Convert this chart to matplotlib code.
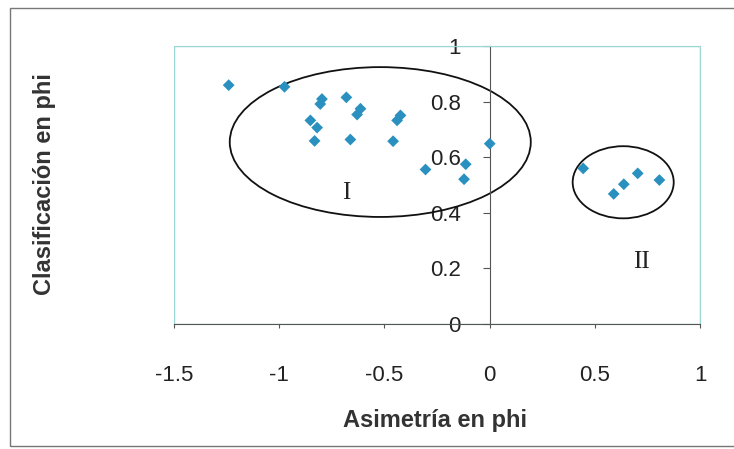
import matplotlib
matplotlib.use("Agg")
import matplotlib.pyplot as plt
from matplotlib.patches import Ellipse, Rectangle

plt.rcParams["font.family"] = ["Liberation Sans", "DejaVu Sans"]

# Datos
asimetria = [-1.24, -0.975, -0.797, -0.805, -0.681, -0.614, -0.630, -0.424, -0.440,
             -0.852, -0.820, -0.832, -0.662, -0.459, 0.0, -0.305, -0.114, -0.122,
             0.444, 0.589, 0.637, 0.703, 0.806]
clasificacion = [0.859, 0.853, 0.809, 0.791, 0.815, 0.774, 0.753, 0.750, 0.732,
                 0.732, 0.706, 0.658, 0.663, 0.657, 0.648, 0.555, 0.574, 0.520,
                 0.559, 0.467, 0.502, 0.541, 0.517]

# Grupos (centro x, centro y, ancho, alto)
grupos = {"I": (-0.52, 0.654, 1.43, 0.54), "II": (0.634, 0.509, 0.48, 0.26)}
etiquetas = {"I": (-0.68, 0.47), "II": (0.72, 0.22)}

fig = plt.figure(figsize=(7.34, 4.49), dpi=100)
ax = fig.add_axes([0.237, 0.2795, 0.717, 0.618])

ax.scatter(asimetria, clasificacion, marker="D", s=36, color="#2a90bf",
           edgecolors="none", zorder=3)

for nombre, (cx, cy, w, h) in grupos.items():
    ax.add_patch(Ellipse((cx, cy), w, h, fill=False, edgecolor="#111111",
                         linewidth=1.3, zorder=2))
    tx, ty = etiquetas[nombre]
    ax.text(tx, ty, nombre, family=["Liberation Serif", "DejaVu Serif"],
            fontsize=18, ha="center", va="center", color="#222222")

ax.set_xlim(-1.5, 1)
ax.set_ylim(0, 1)
ax.set_xticks([-1.5, -1, -0.5, 0, 0.5, 1])
ax.set_xticklabels(["-1.5", "-1", "-0.5", "0", "0.5", "1"])
ax.set_yticks([0, 0.2, 0.4, 0.6, 0.8, 1])
ax.set_yticklabels(["0", "0.2", "0.4", "0.6", "0.8", "1"])

# Eje y en x = 0, marco del área en turquesa claro
ax.spines["left"].set_position(("data", 0))
ax.spines["left"].set_color("#555555")
ax.spines["bottom"].set_color("#555555")
for s in ["top", "right"]:
    ax.spines[s].set_color("#9ad6d2")
ax.add_patch(Rectangle((0, 0), 1, 1, transform=ax.transAxes, fill=False,
                       edgecolor="#9ad6d2", linewidth=1, zorder=0))

ax.tick_params(axis="y", direction="out", length=5, labelsize=16, pad=16,
               colors="#555555", labelcolor="#222222")
ax.tick_params(axis="x", direction="out", length=3, labelsize=16, pad=27,
               colors="#555555", labelcolor="#222222")

fig.text(0.593, 0.05, "Asimetría en phi", fontsize=17, fontweight="bold",
         ha="center", va="baseline", color="#333333")
fig.text(0.061, 0.59, "Clasificación en phi", fontsize=17, fontweight="bold",
         ha="center", va="center", rotation=90, color="#333333")

# Marco exterior
fig.patches.append(Rectangle((10 / 734, 3 / 449), 1.2, 438 / 449,
                             transform=fig.transFigure, fill=False,
                             edgecolor="#777777", linewidth=1))

fig.savefig("out.png", dpi=100)
